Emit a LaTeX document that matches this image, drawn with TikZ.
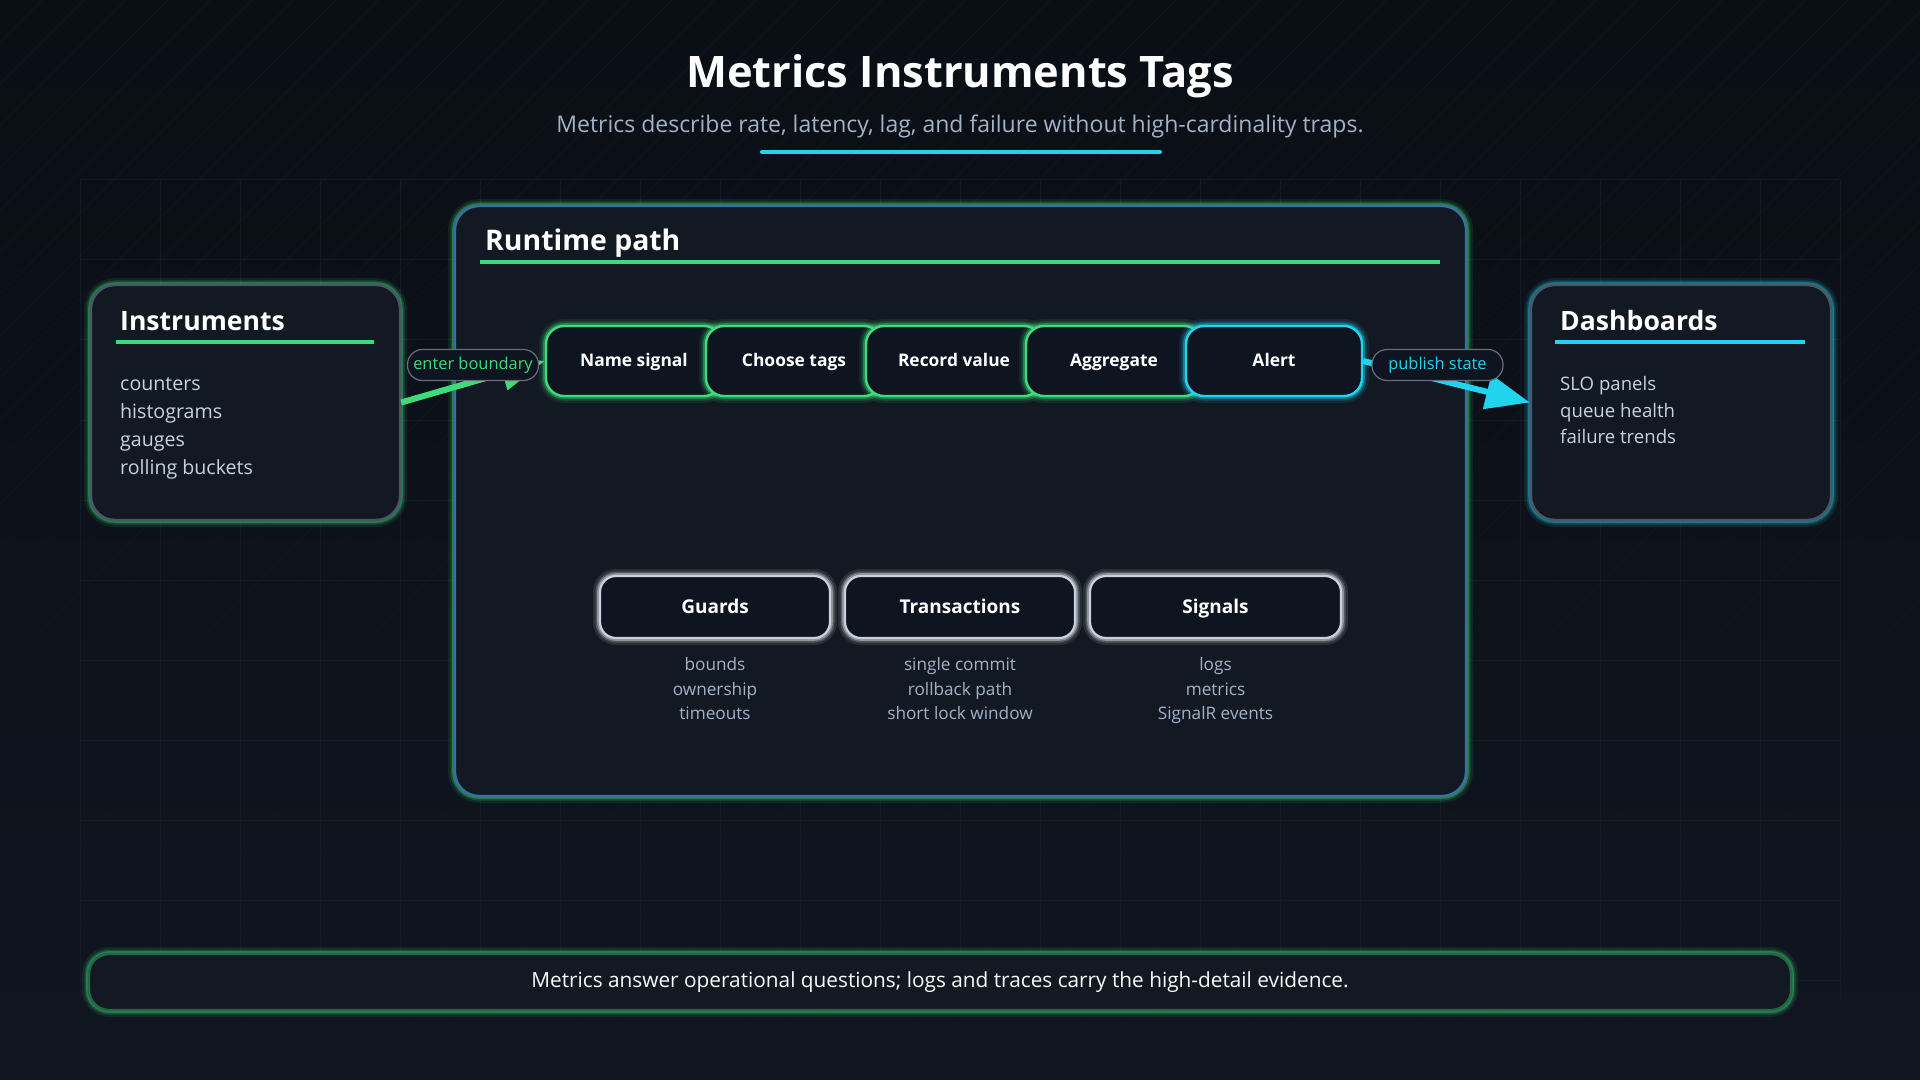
\documentclass[tikz,border=0pt]{standalone}
\usepackage{fontspec}
\setmainfont{Open Sans}
\usetikzlibrary{arrows.meta,positioning,calc}
\definecolor{bg}{HTML}{0A0E15}
\definecolor{bgdeep}{HTML}{101620}
\definecolor{panel}{HTML}{121923}
\definecolor{cardfill}{HTML}{0E1420}
\definecolor{mint}{HTML}{3DDC7A}
\definecolor{cyanish}{HTML}{22D3EE}
\definecolor{steel}{HTML}{3A6EA5}
\definecolor{slate}{HTML}{A3B2C6}
\definecolor{mist}{HTML}{C8D3E0}
\definecolor{edge}{HTML}{4B5566}
\definecolor{chalk}{HTML}{C9D1DC}
\definecolor{gridline}{HTML}{141B26}
\definecolor{hatch}{HTML}{10151E}
\tikzset{
  >={Triangle[length=22pt,width=17pt]},
  glow/.style={preaction={draw=#1,line width=7pt,opacity=0.10},
    preaction={draw=#1,line width=4.5pt,opacity=0.20},
    preaction={draw=#1,line width=2.8pt,opacity=0.35}},
  card/.style={draw=edge,line width=1.2pt,fill=panel,rounded corners=12pt,glow=#1},
  card/.default=mint,
  stepbox/.style={draw=#1,line width=1.2pt,fill=cardfill,rounded corners=9pt,glow=#1,
    minimum width=88pt,minimum height=35pt,text=white,text height=7.8pt,text depth=1.9pt,
    font=\fontsize{8.7}{10}\selectfont\bfseries},
  stepbox/.default=mint,
  guard/.style={draw=chalk,line width=1.1pt,fill=cardfill,rounded corners=8pt,glow=white,
    minimum height=31pt,text=white,text height=8.2pt,text depth=2pt,
    font=\fontsize{9.5}{11}\selectfont\bfseries},
  tag/.style={draw=edge!85,line width=0.6pt,fill=cardfill,rounded corners=7.5pt,
    minimum height=15.5pt,minimum width=65.5pt,inner xsep=2pt,
    font=\fontsize{8.2}{9}\selectfont,text=#1},
  flow/.style={->,line width=3pt,draw=#1,color=#1},
  head/.style={font=\fontsize{13.3}{15}\selectfont\bfseries,text=white,anchor=base west,inner sep=0pt},
  items/.style={font=\fontsize{9.8}{11}\selectfont,text=mist,anchor=base west,inner sep=0pt},
  notes/.style={font=\fontsize{8.6}{12.25}\selectfont,text=slate,align=center,anchor=north,inner sep=0pt},
  rule/.style={draw=#1,line width=2pt},
}
\begin{document}
\begin{tikzpicture}[x=0.5pt,y=-0.5pt]
  \useasboundingbox (0,0) rectangle (1920,1080);
  \shade[top color=bg,bottom color=bgdeep] (0,0) rectangle (1920,1080);
  % faint backdrop
  \begin{scope}
    \clip (0,0) rectangle (1920,1080);
    \foreach \i in {0,42,...,3024} \draw[hatch,line width=0.4pt] (\i,0) -- ++(-1100,1100);
    \foreach \i in {80,160,...,1840} \draw[gridline,line width=0.5pt] (\i,180) -- (\i,1000);
    \foreach \j in {180,260,...,1000} \draw[gridline,line width=0.5pt] (80,\j) -- (1840,\j);
  \end{scope}

  % title
  \node[font=\fontsize{21.7}{24}\selectfont\bfseries,text=white] (title) at (960,76) {Metrics Instruments Tags};
  \node[font=\fontsize{11.5}{13}\selectfont,text=slate] (sub) at (960,126)
    {Metrics describe rate, latency, lag, and failure without high-cardinality traps.};
  \draw[rule=cyanish,line cap=round] (762,152) -- (1160,152);

  % frames
  \node[card=mint,draw=steel,minimum width=505.5pt,minimum height=295pt] (runtime) at (960.5,501) {};
  \node[card=mint,minimum width=154.5pt,minimum height=117.5pt] (instr) at (245.5,402.5) {};
  \node[card=cyanish,minimum width=150pt,minimum height=117.5pt] (dash) at (1681,402.5) {};

  \node[head,font=\fontsize{14.2}{16}\selectfont\bfseries] (runtimehead) at ($(runtime.north west)+(31,46)$) {Runtime path};
  \draw[rule=mint] ($(runtime.north west)+(26,57)$) -- ($(runtime.north east)+(-27,57)$);

  \node[head] (instrhead) at ($(instr.north west)+(30,47)$) {Instruments};
  \draw[rule=mint] ($(instr.north west)+(26,58)$) -- ($(instr.north east)+(-27,58)$);
  \foreach \t [count=\k] in {counters,histograms,gauges,rolling buckets}
    \node[items] (instr\k) at ($(instr.north west)+(30,79+28*\k)$) {\t};

  \node[head] (dashhead) at ($(dash.north west)+(30,47)$) {Dashboards};
  \draw[rule=cyanish] ($(dash.north west)+(25,58)$) -- ($(dash.north east)+(-27,58)$);
  \foreach \t [count=\k] in {SLO panels,queue health,failure trends}
    \node[items,font=\fontsize{9.3}{11}\selectfont] (dash\k) at ($(dash.north west)+(30,80.5+26.5*\k)$) {\t};

  % pipeline
  \node[stepbox] (name) at (634,361) {Name signal};
  \node[stepbox,right=-9.2pt of name] (choose) {Choose tags};
  \node[stepbox,right=-9.2pt of choose] (record) {Record value};
  \node[stepbox,right=-9.2pt of record] (aggregate) {Aggregate};
  \node[stepbox=cyanish,right=-9.2pt of aggregate] (alert) {Alert};

  \draw[flow=mint] (instr.east) -- (name.west);
  \node[tag=mint] (enter) at (473,365) {enter boundary};
  \draw[flow=cyanish] (alert.east) -- (dash.west);
  \node[tag=cyanish] (publish) at (1437.5,365) {publish state};

  % guards row
  \node[guard,minimum width=115pt] (guards) at (715,607) {Guards};
  \node[guard,minimum width=115pt] (trans) at (960,607) {Transactions};
  \node[guard,minimum width=125.5pt] (signals) at (1215.5,607) {Signals};
  \node[notes] (guardsnote) at ($(guards.south)+(0,18)$) {bounds\\ownership\\timeouts};
  \node[notes] (transnote) at ($(trans.south)+(0,18)$) {single commit\\rollback path\\short lock window};
  \node[notes] (signalsnote) at ($(signals.south)+(0,18)$) {logs\\metrics\\SignalR events};

  % footer
  \node[card=mint,draw=mint!40!panel,rounded corners=10pt,minimum width=851pt,minimum height=28pt,
    font=\fontsize{10.4}{12}\selectfont,text=white!90!mist] (footer) at (940,982)
    {Metrics answer operational questions; logs and traces carry the high-detail evidence.};
\end{tikzpicture}
\end{document}
